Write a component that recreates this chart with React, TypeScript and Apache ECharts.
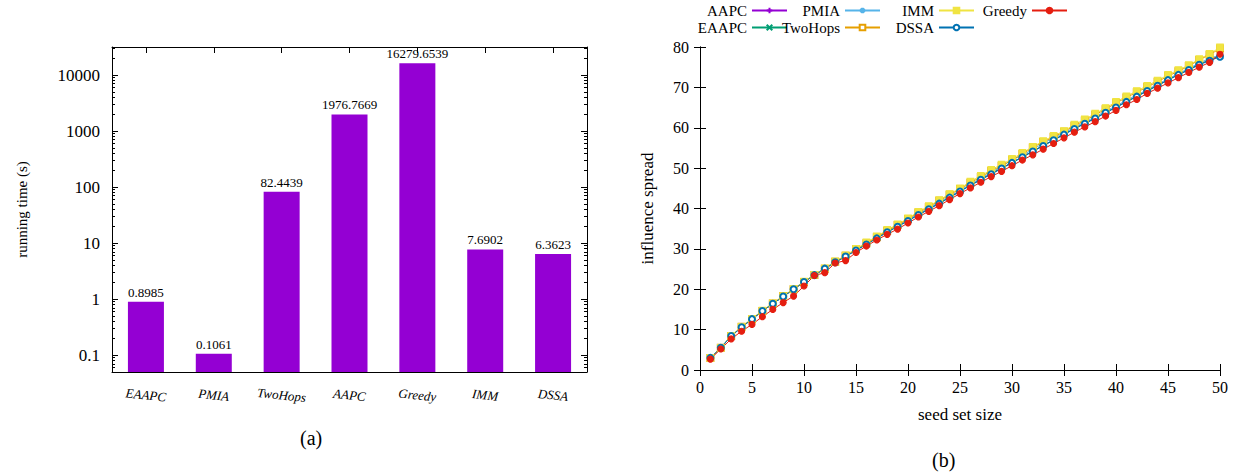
import React, { useEffect, useRef } from 'react';
import * as echarts from 'echarts';

// ---------- data: panel (a) ----------
const algorithms = ['EAAPC', 'PMIA', 'TwoHops', 'AAPC', 'Greedy', 'IMM', 'DSSA'];
const runningTimes = [0.8985, 0.1061, 82.4439, 1976.7669, 16279.6539, 7.6902, 6.3623];

// ---------- data: panel (b) ----------
const seedSizes = [
  1, 2, 3, 4, 5, 6, 7, 8, 9, 10, 11, 12, 13, 14, 15, 16, 17, 18, 19, 20, 21, 22, 23, 24, 25,
  26, 27, 28, 29, 30, 31, 32, 33, 34, 35, 36, 37, 38, 39, 40, 41, 42, 43, 44, 45, 46, 47, 48, 49, 50,
];
const aapcSpread = [
  3.0, 5.5, 8.4, 10.6, 12.6, 14.6, 16.4, 18.2, 20.0, 21.8, 23.5, 25.1, 26.7, 28.1, 29.7, 31.2, 32.7, 34.2, 35.6, 37.0, 38.5, 39.9, 41.3, 42.8, 44.3,
  45.8, 47.2, 48.6, 50.0, 51.4, 52.8, 54.2, 55.6, 57.0, 58.4, 59.8, 61.1, 62.4, 63.8, 65.1, 66.5, 67.8, 69.2, 70.5, 71.9, 73.2, 74.4, 75.7, 76.8, 77.9,
];
const eaapcSpread = [
  3.0, 5.5, 8.4, 10.6, 12.6, 14.6, 16.4, 18.2, 20.0, 21.8, 23.5, 25.1, 26.7, 28.2, 29.7, 31.2, 32.7, 34.2, 35.6, 37.1, 38.5, 39.9, 41.4, 42.8, 44.3,
  45.8, 47.2, 48.7, 50.0, 51.4, 52.8, 54.2, 55.6, 57.0, 58.4, 59.8, 61.1, 62.4, 63.8, 65.1, 66.5, 67.8, 69.2, 70.5, 71.9, 73.2, 74.5, 75.7, 76.8, 77.8,
];
const pmiaSpread = [
  3.0, 5.6, 8.5, 10.7, 12.7, 14.7, 16.5, 18.3, 20.1, 21.9, 23.6, 25.2, 26.8, 28.3, 29.9, 31.4, 32.9, 34.4, 35.8, 37.2, 38.7, 40.1, 41.6, 43.0, 44.5,
  46.0, 47.5, 48.9, 50.4, 52.0, 53.2, 54.6, 56.2, 57.4, 58.7, 60.1, 61.4, 62.7, 64.1, 65.4, 66.8, 68.1, 69.4, 70.8, 72.1, 73.4, 74.7, 76.0, 77.2, 78.0,
];
const twoHopsSpread = [
  3.0, 5.5, 8.4, 10.7, 12.6, 14.6, 16.5, 18.3, 20.0, 21.8, 23.5, 25.1, 26.8, 28.3, 29.9, 31.4, 32.9, 34.5, 35.9, 37.4, 39.0, 40.4, 41.9, 43.4, 44.8,
  46.4, 47.8, 49.3, 50.6, 52.0, 53.5, 55.1, 56.5, 57.7, 59.0, 60.5, 61.8, 63.2, 64.6, 66.1, 67.5, 68.8, 70.1, 71.4, 72.8, 74.0, 75.3, 76.8, 78.1, 79.6,
];
const immSpread = [
  3.0, 5.5, 8.5, 10.7, 12.7, 14.7, 16.5, 18.3, 20.1, 21.9, 23.6, 25.2, 26.9, 28.4, 30.0, 31.6, 33.1, 34.7, 36.1, 37.6, 39.2, 40.6, 42.1, 43.6, 45.0,
  46.7, 48.1, 49.6, 50.9, 52.3, 53.8, 55.3, 56.7, 58.0, 59.2, 60.8, 62.1, 63.5, 64.9, 66.4, 67.8, 69.1, 70.4, 71.7, 73.1, 74.3, 75.5, 77.0, 78.3, 79.9,
];
const dssaSpread = [
  3.0, 5.5, 8.4, 10.6, 12.6, 14.6, 16.4, 18.2, 20.0, 21.8, 23.5, 25.1, 26.7, 28.1, 29.6, 31.1, 32.6, 34.1, 35.5, 36.9, 38.4, 39.8, 41.2, 42.7, 44.2,
  45.7, 47.1, 48.5, 49.9, 51.3, 52.7, 54.1, 55.5, 56.9, 58.3, 59.7, 61.0, 62.3, 63.7, 65.0, 66.4, 67.7, 69.1, 70.4, 71.8, 73.1, 74.3, 75.6, 76.6, 77.6,
];
const greedySpread = [
  2.7, 5.2, 7.7, 9.6, 11.3, 13.2, 15.0, 16.7, 18.3, 20.8, 23.4, 24.1, 26.5, 27.1, 29.1, 30.7, 32.2, 33.6, 34.9, 36.4, 37.9, 39.3, 40.7, 42.2, 43.7,
  45.1, 46.5, 47.9, 49.2, 50.6, 52.0, 53.3, 54.7, 56.1, 57.5, 58.9, 60.2, 61.5, 62.9, 64.3, 65.7, 67.0, 68.5, 69.8, 71.1, 72.4, 73.7, 75.0, 76.2, 78.2,
];

const SERIF = '"Liberation Serif", "DejaVu Serif", serif';
const BLACK = '#000';

const PLUS = 'path://M0,5L10,5M5,0L5,10';
const CROSS = 'path://M0,0L10,10M10,0L0,10';
const STAR = 'path://M0,5L10,5M5,0L5,10M1.5,1.5L8.5,8.5M8.5,1.5L1.5,8.5';

const lineDefs = [
  { name: 'AAPC', data: aapcSpread, color: '#9400D3', symbol: PLUS, size: 7 },
  { name: 'EAAPC', data: eaapcSpread, color: '#009E73', symbol: CROSS, size: 6 },
  { name: 'PMIA', data: pmiaSpread, color: '#56B4E9', symbol: STAR, size: 7 },
  { name: 'TwoHops', data: twoHopsSpread, color: '#E69F00', symbol: 'emptyRect', size: 6 },
  { name: 'IMM', data: immSpread, color: '#F0E442', symbol: 'rect', size: 6.5 },
  { name: 'DSSA', data: dssaSpread, color: '#0072B2', symbol: 'emptyCircle', size: 6 },
  { name: 'Greedy', data: greedySpread, color: '#E51E10', symbol: 'circle', size: 6 },
];

// legend layout (gnuplot column-major key)
const legendSlots: Record<string, { right: number; top: number }> = {
  AAPC: { right: 451, top: 3 },
  EAAPC: { right: 451, top: 20 },
  PMIA: { right: 358, top: 3 },
  TwoHops: { right: 358, top: 20 },
  IMM: { right: 264, top: 3 },
  DSSA: { right: 264, top: 20 },
  Greedy: { right: 171, top: 3 },
};

function isPow10(v: number) {
  const l = Math.log10(v);
  return Math.abs(l - Math.round(l)) < 1e-6;
}

function buildOption(): echarts.EChartsCoreOption {
  const axisLine = { show: true, lineStyle: { color: BLACK, width: 1 } };
  const tickIn = { show: true, inside: true, length: 6, lineStyle: { color: BLACK, width: 1 } };

  const lineSeries = lineDefs.map((d) => ({
    type: 'line',
    name: d.name,
    xAxisIndex: 2,
    yAxisIndex: 2,
    data: seedSizes.map((x, i) => [x, d.data[i]]),
    symbol: d.symbol,
    symbolSize: d.size,
    showAllSymbol: true,
    lineStyle: { color: d.color, width: 1 },
    itemStyle: { color: d.color, borderColor: d.color, borderWidth: 1.1 },
    emphasis: { disabled: true },
  }));

  const legends = lineDefs.map((d) => ({
    data: [d.name],
    right: legendSlots[d.name].right,
    top: legendSlots[d.name].top,
    align: 'right',
    padding: 0,
    itemWidth: 35,
    itemHeight: 7,
    selectedMode: false,
    textStyle: { fontFamily: SERIF, fontSize: 15, color: BLACK },
  }));

  return {
    animation: false,
    backgroundColor: '#fff',
    textStyle: { fontFamily: SERIF },
    legend: legends,
    grid: [
      { left: 112, top: 47, width: 475, height: 325, containLabel: false },
      { left: 700, top: 47, width: 520, height: 323, containLabel: false },
    ],
    xAxis: [
      {
        type: 'category',
        gridIndex: 0,
        position: 'bottom',
        data: algorithms,
        axisLine,
        axisTick: { show: false },
        axisLabel: {
          color: BLACK,
          fontFamily: SERIF,
          fontStyle: 'italic',
          fontSize: 13,
          rotate: -6,
          align: 'center',
          verticalAlign: 'middle',
          margin: 23,
        },
        splitLine: { show: false },
      },
      {
        type: 'category',
        gridIndex: 0,
        position: 'top',
        data: algorithms,
        axisLine,
        axisTick: { ...tickIn, alignWithLabel: true },
        axisLabel: { show: false },
        splitLine: { show: false },
      },
      {
        type: 'value',
        gridIndex: 1,
        position: 'bottom',
        min: 0,
        max: 50,
        interval: 5,
        axisLine,
        axisTick: tickIn,
        axisLabel: { color: BLACK, fontFamily: SERIF, fontSize: 16, margin: 9 },
        splitLine: { show: false },
        name: 'seed set size',
        nameLocation: 'middle',
        nameGap: 36,
        nameTextStyle: { color: BLACK, fontFamily: SERIF, fontSize: 17 },
      },
      {
        type: 'value',
        gridIndex: 1,
        position: 'top',
        min: 0,
        max: 50,
        interval: 5,
        axisLine,
        axisTick: tickIn,
        axisLabel: { show: false },
        splitLine: { show: false },
      },
    ],
    yAxis: [
      {
        type: 'log',
        gridIndex: 0,
        position: 'left',
        min: 0.05,
        max: 31622.7766,
        startValue: 0.05,
        splitNumber: 6,
        axisLine,
        axisTick: tickIn,
        minorTick: { show: true, splitNumber: 9, length: 3, lineStyle: { color: BLACK, width: 1 } },
        axisLabel: {
          color: BLACK,
          fontFamily: SERIF,
          fontSize: 17,
          margin: 12,
          showMinLabel: false,
          showMaxLabel: false,
          formatter: (v: number) => (isPow10(v) ? String(v) : ''),
        },
        splitLine: { show: false },
        minorSplitLine: { show: false },
        name: 'running time (s)',
        nameLocation: 'middle',
        nameGap: 83,
        nameTextStyle: { color: BLACK, fontFamily: SERIF, fontSize: 15 },
      },
      {
        type: 'log',
        gridIndex: 0,
        position: 'right',
        min: 0.05,
        max: 31622.7766,
        splitNumber: 6,
        axisLine,
        axisTick: tickIn,
        minorTick: { show: true, splitNumber: 9, length: 3, lineStyle: { color: BLACK, width: 1 } },
        axisLabel: { show: false },
        splitLine: { show: false },
        minorSplitLine: { show: false },
      },
      {
        type: 'value',
        gridIndex: 1,
        position: 'left',
        min: 0,
        max: 80,
        interval: 10,
        axisLine,
        axisTick: tickIn,
        axisLabel: { color: BLACK, fontFamily: SERIF, fontSize: 16, margin: 11 },
        splitLine: { show: false },
        name: 'influence spread',
        nameLocation: 'middle',
        nameGap: 44,
        nameTextStyle: { color: BLACK, fontFamily: SERIF, fontSize: 17 },
      },
      {
        type: 'value',
        gridIndex: 1,
        position: 'right',
        min: 0,
        max: 80,
        interval: 10,
        axisLine,
        axisTick: tickIn,
        axisLabel: { show: false },
        splitLine: { show: false },
      },
    ],
    series: [
      {
        type: 'bar',
        name: 'running time',
        xAxisIndex: 0,
        yAxisIndex: 0,
        data: runningTimes,
        barWidth: 36,
        itemStyle: { color: '#9400D3' },
        label: {
          show: true,
          position: 'top',
          distance: 3,
          color: BLACK,
          fontFamily: SERIF,
          fontSize: 13,
          formatter: (p: any) => String(p.value),
        },
        emphasis: { disabled: true },
      },
      ...lineSeries,
    ],
    graphic: [
      {
        type: 'text',
        left: 300,
        top: 428,
        style: { text: '(a)', fontFamily: SERIF, fontSize: 20, fill: BLACK },
      },
      {
        type: 'text',
        left: 932,
        top: 450,
        style: { text: '(b)', fontFamily: SERIF, fontSize: 20, fill: BLACK },
      },
    ],
  };
}

export default function App() {
  const ref = useRef<HTMLDivElement>(null);
  useEffect(() => {
    if (!ref.current) return;
    const chart = echarts.init(ref.current, null, { renderer: 'svg' });
    chart.setOption(buildOption());
    return () => chart.dispose();
  }, []);
  return (
    <div
      ref={ref}
      style={{ position: 'fixed', left: 0, top: 0, width: 1239, height: 475, background: '#fff' }}
    />
  );
}
